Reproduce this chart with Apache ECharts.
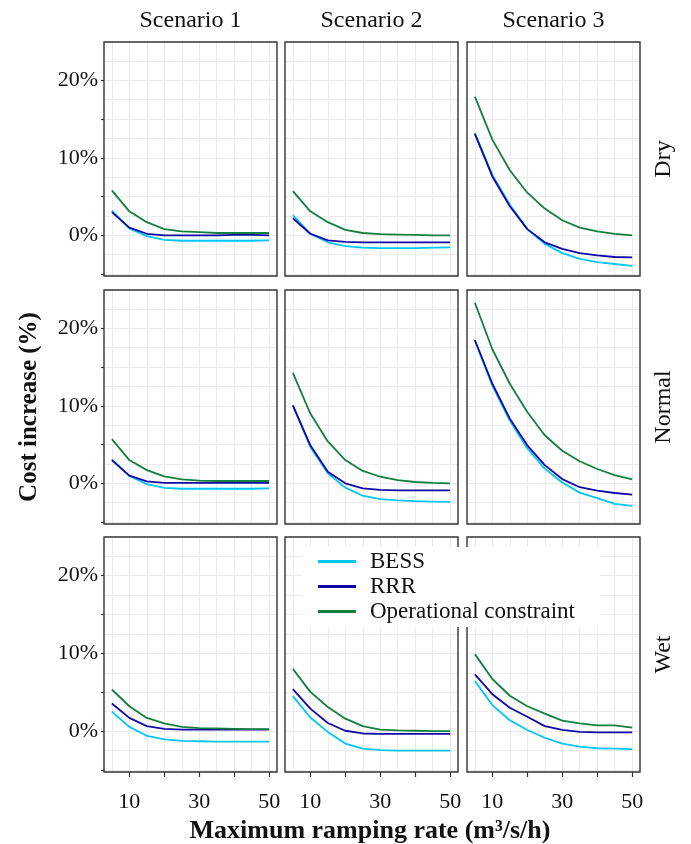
<!DOCTYPE html>
<html><head><meta charset="utf-8">
<script src="https://cdn.jsdelivr.net/npm/echarts@6/dist/echarts.min.js"></script>
<style>html,body{margin:0;padding:0;background:#fff}#c{width:691px;height:844px}</style>
</head><body><div id="c"></div>
<script>
// ---- data ----
const rampRates = [5, 10, 15, 20, 25, 30, 35, 40, 45, 50];
const scenarios = ['Scenario 1', 'Scenario 2', 'Scenario 3'];
const conditions = ['Dry', 'Normal', 'Wet'];
const seriesNames = ['BESS', 'RRR', 'Operational constraint'];
const xTickValues = [10, 20, 30, 40, 50];
const xLabelValues = [10, 30, 50];
const yTickValues = [-5, 0, 5, 10, 15, 20];
const yLabelValues = [0, 10, 20];

const bess_dry_s1 = [3.2, 0.9, -0.1, -0.6, -0.7, -0.7, -0.7, -0.7, -0.7, -0.65];
const rrr_dry_s1  = [3.0, 1.0, 0.2, 0.0, 0.0, 0.0, 0.0, 0.05, 0.05, 0.0];
const oc_dry_s1   = [5.8, 3.1, 1.7, 0.8, 0.5, 0.4, 0.3, 0.3, 0.3, 0.3];

const bess_dry_s2 = [2.6, 0.2, -0.9, -1.4, -1.6, -1.65, -1.65, -1.65, -1.6, -1.55];
const rrr_dry_s2  = [2.2, 0.2, -0.65, -0.85, -0.9, -0.9, -0.9, -0.9, -0.9, -0.9];
const oc_dry_s2   = [5.7, 3.1, 1.7, 0.7, 0.3, 0.15, 0.1, 0.05, 0.0, 0.0];

const bess_dry_s3 = [13.2, 7.8, 3.95, 0.8, -1.1, -2.3, -3.05, -3.45, -3.7, -3.95];
const rrr_dry_s3  = [13.1, 7.6, 3.75, 0.8, -0.9, -1.75, -2.3, -2.6, -2.8, -2.85];
const oc_dry_s3   = [17.9, 12.35, 8.4, 5.5, 3.45, 1.95, 1.0, 0.5, 0.2, 0.0];

const bess_normal_s1 = [3.1, 0.95, -0.1, -0.6, -0.7, -0.7, -0.7, -0.7, -0.7, -0.65];
const rrr_normal_s1  = [3.0, 1.0, 0.25, 0.05, 0.05, 0.05, 0.05, 0.1, 0.05, 0.05];
const oc_normal_s1   = [5.7, 3.0, 1.7, 0.9, 0.5, 0.35, 0.3, 0.3, 0.3, 0.3];

const bess_normal_s2 = [10.05, 4.7, 1.3, -0.55, -1.6, -2.05, -2.2, -2.3, -2.35, -2.4];
const rrr_normal_s2  = [10.05, 4.9, 1.5, 0.0, -0.65, -0.85, -0.9, -0.9, -0.9, -0.9];
const oc_normal_s2   = [14.25, 9.0, 5.4, 3.0, 1.6, 0.85, 0.42, 0.17, 0.05, 0.0];

const bess_normal_s3 = [18.4, 12.6, 8.1, 4.5, 1.9, 0.1, -1.2, -1.9, -2.65, -2.9];
const rrr_normal_s3  = [18.5, 12.85, 8.35, 4.9, 2.35, 0.55, -0.5, -0.95, -1.25, -1.45];
const oc_normal_s3   = [23.3, 17.3, 12.85, 9.2, 6.2, 4.2, 2.85, 1.85, 1.05, 0.5];

const bess_wet_s1 = [2.5, 0.55, -0.6, -1.05, -1.25, -1.3, -1.35, -1.35, -1.35, -1.35];
const rrr_wet_s1  = [3.55, 1.7, 0.65, 0.3, 0.2, 0.2, 0.2, 0.2, 0.2, 0.2];
const oc_wet_s1   = [5.35, 3.2, 1.7, 1.0, 0.55, 0.4, 0.35, 0.3, 0.25, 0.25];

const bess_wet_s2 = [4.5, 1.75, -0.1, -1.6, -2.25, -2.45, -2.5, -2.5, -2.5, -2.5];
const rrr_wet_s2  = [5.4, 2.9, 1.05, 0.05, -0.3, -0.35, -0.35, -0.35, -0.35, -0.35];
const oc_wet_s2   = [8.0, 5.05, 3.1, 1.6, 0.65, 0.2, 0.1, 0.05, 0.0, 0.0];

const bess_wet_s3 = [6.45, 3.35, 1.4, 0.15, -0.85, -1.6, -2.0, -2.2, -2.25, -2.3];
const rrr_wet_s3  = [7.3, 4.75, 3.0, 1.85, 0.65, 0.15, -0.1, -0.15, -0.15, -0.15];
const oc_wet_s3   = [9.9, 6.7, 4.55, 3.2, 2.25, 1.35, 1.0, 0.75, 0.75, 0.45];

const panelData = [
  [[bess_dry_s1, rrr_dry_s1, oc_dry_s1], [bess_dry_s2, rrr_dry_s2, oc_dry_s2], [bess_dry_s3, rrr_dry_s3, oc_dry_s3]],
  [[bess_normal_s1, rrr_normal_s1, oc_normal_s1], [bess_normal_s2, rrr_normal_s2, oc_normal_s2], [bess_normal_s3, rrr_normal_s3, oc_normal_s3]],
  [[bess_wet_s1, rrr_wet_s1, oc_wet_s1], [bess_wet_s2, rrr_wet_s2, oc_wet_s2], [bess_wet_s3, rrr_wet_s3, oc_wet_s3]]
];

// ---- styling / layout ----
const colors = ['#00c6f8', '#1208a6', '#12803c'];
const FONT = '"Liberation Serif", "Times New Roman", serif';
const TXT = '#111';
const X_MIN = 2.75, X_MAX = 52.25;
const Y_MIN = -5.25, Y_MAX = 24.95;
const colLeft = [104, 285, 467];
const colW = 173;
const rowTop = [42, 290, 537];
const rowH = [234, 234, 235];

const grids = [], xAxes = [], yAxes = [], series = [];
for (let r = 0; r < 3; r++) {
  for (let c = 0; c < 3; c++) {
    const g = r * 3 + c;
    grids.push({
      left: colLeft[c], top: rowTop[r], width: colW, height: rowH[r], z: 3,
      show: true, borderColor: '#333', borderWidth: 1.4, backgroundColor: 'transparent'
    });
    // grid-line axes
    xAxes.push({
      gridIndex: g, type: 'value', min: X_MIN, max: X_MAX, minInterval: 5, maxInterval: 5,
      position: 'top', axisLine: {show: false, onZero: false}, axisTick: {show: false}, axisLabel: {show: false},
      splitLine: {show: true, showMinLine: false, showMaxLine: false, lineStyle: {color: '#ebebeb', width: 1}}
    });
    xAxes.push({
      gridIndex: g, type: 'value', min: X_MIN, max: X_MAX, minInterval: 10, maxInterval: 10,
      position: 'bottom', axisLine: {show: false, onZero: false},
      axisTick: {show: r === 2, customValues: xTickValues, length: 5, lineStyle: {color: '#333', width: 1.2}},
      axisLabel: {show: r === 2, customValues: xLabelValues, margin: 19, fontSize: 22, fontFamily: FONT, color: TXT,
        formatter: v => xLabelValues.indexOf(v) >= 0 ? String(v) : ''},
      splitLine: {show: false}
    });
    yAxes.push({
      gridIndex: g, type: 'value', min: Y_MIN, max: Y_MAX, minInterval: 2.5, maxInterval: 2.5,
      position: 'right', axisLine: {show: false, onZero: false}, axisTick: {show: false}, axisLabel: {show: false},
      splitLine: {show: true, showMinLine: false, showMaxLine: false, lineStyle: {color: '#ebebeb', width: 1}}
    });
    yAxes.push({
      gridIndex: g, type: 'value', min: Y_MIN, max: Y_MAX, minInterval: 5, maxInterval: 5,
      position: 'left', axisLine: {show: false, onZero: false},
      axisTick: {show: c === 0, customValues: yTickValues, length: 3, lineStyle: {color: '#333', width: 1.2}},
      axisLabel: {show: c === 0, customValues: yLabelValues, margin: 6, fontSize: 22, fontFamily: FONT, color: TXT,
        padding: [5, 0, 0, 0],
        formatter: v => yLabelValues.indexOf(v) >= 0 ? v + '%' : ''},
      splitLine: {show: false}
    });
    panelData[r][c].forEach((arr, k) => {
      series.push({
        name: seriesNames[k], type: 'line', xAxisIndex: 2 * g + 1, yAxisIndex: 2 * g + 1,
        data: rampRates.map((x, i) => [x, arr[i]]),
        showSymbol: false, symbol: 'none', silent: true,
        lineStyle: {width: 1.8, color: colors[k]}, itemStyle: {color: colors[k]}
      });
    });
  }
}

const graphics = [];
scenarios.forEach((s, c) => graphics.push({
  type: 'text', x: colLeft[c] + colW / 2, y: 21,
  style: {text: s, font: '24px ' + FONT, fill: TXT, textAlign: 'center', textVerticalAlign: 'middle'}
}));
conditions.forEach((s, r) => graphics.push({
  type: 'text', x: 664, y: rowTop[r] + rowH[r] / 2, rotation: Math.PI / 2,
  style: {text: s, font: '24px ' + FONT, fill: TXT, textAlign: 'center', textVerticalAlign: 'middle'}
}));
graphics.push({
  type: 'text', x: 30, y: 407, rotation: Math.PI / 2,
  style: {text: 'Cost increase (%)', font: 'bold 25px ' + FONT, fill: TXT, textAlign: 'center', textVerticalAlign: 'middle'}
});
graphics.push({
  type: 'text', x: 370, y: 831,
  style: {text: 'Maximum ramping rate (m\u00b3/s/h)', font: 'bold 26px ' + FONT, fill: TXT, textAlign: 'center', textVerticalAlign: 'middle'}
});

const chart = echarts.init(document.getElementById('c'), null, {renderer: 'canvas'});
chart.setOption({
  animation: false,
  backgroundColor: '#fff',
  grid: grids, xAxis: xAxes, yAxis: yAxes, series: series,
  legend: {
    data: seriesNames, orient: 'vertical', left: 302, top: 547, z: 10,
    backgroundColor: '#fff', padding: [3, 25, 4, 16], itemGap: 2,
    itemWidth: 38, itemHeight: 3, icon: 'rect', selectedMode: false,
    textStyle: {fontSize: 23, fontFamily: FONT, color: TXT, padding: [0, 0, 0, 9]}
  },
  graphic: graphics
});
</script></body></html>
